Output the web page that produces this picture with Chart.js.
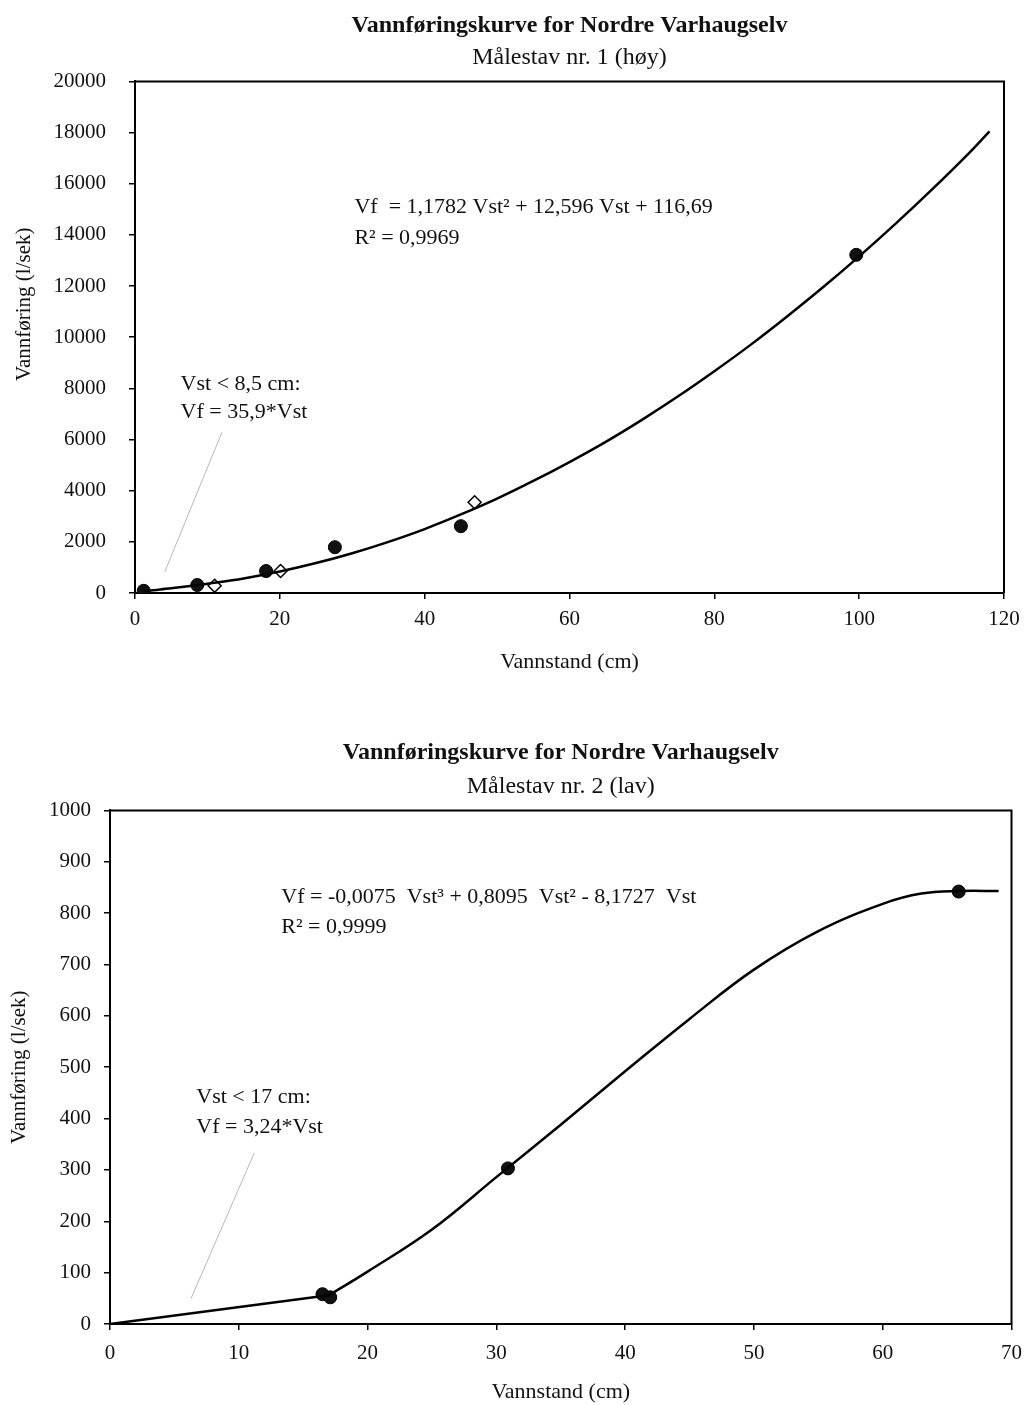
<!DOCTYPE html>
<html><head><meta charset="utf-8">
<script src="https://cdn.jsdelivr.net/npm/chart.js@4/dist/chart.umd.min.js"></script>
<style>
html,body{margin:0;padding:0;background:#fff;}
#w1{position:absolute;left:0;top:0;width:1033px;height:700px;}
#w2{position:absolute;left:0;top:700px;width:1033px;height:705px;}
</style></head><body>
<div id="w1"><canvas id="c1"></canvas></div>
<div id="w2"><canvas id="c2"></canvas></div>
<script>
// ---------- shared text ----------
const mainTitle = 'Vannføringskurve for Nordre Varhaugselv';
const xTitle = 'Vannstand (cm)';
const yTitle = 'Vannføring (l/sek)';

// ---------- chart 1: Målestav nr. 1 (høy) ----------
const subtitle1 = 'Målestav nr. 1 (høy)';
const xTicks1 = [0, 20, 40, 60, 80, 100, 120];
const yTicks1 = [0, 2000, 4000, 6000, 8000, 10000, 12000, 14000, 16000, 18000, 20000];
const dotsX1 = [1.2, 8.6, 18.1, 27.6, 45.0, 99.6];
const dotsY1 = [85, 312, 858, 1790, 2612, 13220];
const diamondsX1 = [11.0, 20.1, 46.9];
const diamondsY1 = [280, 858, 3548];
const lowX1 = [1.2, 3, 5, 8.5];
const lowY1 = [80, 120, 190, 305];
const curveX1 = [8.5, 10, 15, 20, 25, 30, 35, 40, 45, 50, 55, 60, 65, 70, 75, 80, 85, 90, 95, 100, 105, 110, 115, 118];
const curveY1 = [305, 360, 570, 840, 1170, 1555, 2000, 2500, 3070, 3690, 4380, 5120, 5910, 6770, 7690, 8670, 9700, 10800, 11950, 13160, 14430, 15760, 17150, 18050];
const pointerX1 = [4.1, 12.0];
const pointerY1 = [820, 6280];
const notes1 = [
  {x: 6.3, y: 8150, text: 'Vst < 8,5 cm:'},
  {x: 6.3, y: 7060, text: 'Vf = 35,9*Vst'},
  {x: 30.3, y: 15090, text: 'Vf  = 1,1782 Vst² + 12,596 Vst + 116,69'},
  {x: 30.3, y: 13880, text: 'R² = 0,9969'}
];

// ---------- chart 2: Målestav nr. 2 (lav) ----------
const subtitle2 = 'Målestav nr. 2 (lav)';
const xTicks2 = [0, 10, 20, 30, 40, 50, 60, 70];
const yTicks2 = [0, 100, 200, 300, 400, 500, 600, 700, 800, 900, 1000];
const dotsX2 = [16.5, 17.1, 30.9, 65.9];
const dotsY2 = [58, 52, 303, 842];
const lowX2 = [0, 17];
const lowY2 = [0, 56];
const curveX2 = [17, 20, 25, 30, 35, 40, 45, 50, 55, 60, 63, 66, 69];
const curveY2 = [56, 102, 184, 286, 388, 492, 594, 690, 765, 818, 838, 843, 843];
const pointerX2 = [6.3, 11.2];
const pointerY2 = [50, 333];
const notes2 = [
  {x: 6.7, y: 442, text: 'Vst < 17 cm:'},
  {x: 6.7, y: 383, text: 'Vf = 3,24*Vst'},
  {x: 13.3, y: 831, text: 'Vf = -0,0075  Vst³ + 0,8095  Vst² - 8,1727  Vst'},
  {x: 13.3, y: 772, text: 'R² = 0,9999'}
];

// ---------- helpers ----------
const FONT = '"Liberation Serif", "Times New Roman", serif';
const INK = '#111';
const pts = (xs, ys) => xs.map((x, i) => ({x: x, y: ys[i]}));

const frameAndNotes = {
  id: 'frameAndNotes',
  afterDatasetsDraw(chart, args, opts) {
    const {ctx, chartArea: a, scales} = chart;
    ctx.save();
    ctx.strokeStyle = '#000';
    ctx.lineWidth = 2;
    ctx.beginPath();
    ctx.moveTo(a.left, a.top);
    ctx.lineTo(a.right, a.top);
    ctx.lineTo(a.right, a.bottom);
    ctx.stroke();
    ctx.fillStyle = INK;
    ctx.font = opts.size + 'px ' + FONT;
    ctx.textAlign = 'left';
    ctx.textBaseline = 'middle';
    (opts.notes || []).forEach(n => {
      ctx.fillText(n.text, scales.x.getPixelForValue(n.x), scales.y.getPixelForValue(n.y));
    });
    ctx.restore();
  }
};

function makeChart(id, cfg) {
  return new Chart(document.getElementById(id), {
    type: 'scatter',
    data: {
      datasets: [
        {label: 'pointer', data: pts(cfg.pointerX, cfg.pointerY), showLine: true, borderColor: '#b8b8b8', borderWidth: 1, pointRadius: 0},
        {label: 'lineær del', data: pts(cfg.lowX, cfg.lowY), showLine: true, borderColor: '#000', borderWidth: 2.5, pointRadius: 0, tension: cfg.lowTension},
        {label: 'kurve', data: pts(cfg.curveX, cfg.curveY), showLine: true, borderColor: '#000', borderWidth: 2.5, pointRadius: 0, tension: 0.4},
        {label: 'målinger', data: pts(cfg.dotsX, cfg.dotsY), pointStyle: 'circle', pointRadius: 6.5, backgroundColor: '#111', borderColor: '#000', borderWidth: 1},
        {label: 'målinger 2', data: pts(cfg.diaX, cfg.diaY), pointStyle: 'rectRot', pointRadius: 6.5, backgroundColor: '#fff', borderColor: '#000', borderWidth: 1.5}
      ]
    },
    options: {
      responsive: true,
      maintainAspectRatio: false,
      animation: false,
      layout: {padding: cfg.padding},
      plugins: {
        legend: {display: false},
        tooltip: {enabled: false},
        title: {display: true, text: mainTitle, fullSize: false, color: INK, font: {family: FONT, size: 24, weight: 'bold'}, padding: cfg.titlePad},
        subtitle: {display: true, text: cfg.subtitle, fullSize: false, color: INK, font: {family: FONT, size: 24}, padding: cfg.subPad},
        frameAndNotes: {notes: cfg.notes, size: 22}
      },
      scales: {
        x: {
          type: 'linear', min: cfg.xTicks[0], max: cfg.xTicks[cfg.xTicks.length - 1],
          afterBuildTicks: s => { s.ticks = cfg.xTicks.map(v => ({value: v})); },
          afterFit: s => { s.height = cfg.xHeight; },
          border: {color: '#000', width: 2},
          grid: {drawOnChartArea: false, drawTicks: true, tickLength: 6, color: '#000', lineWidth: 1.5},
          ticks: {color: INK, font: {family: FONT, size: 21}, padding: cfg.xPad, maxRotation: 0, callback: v => String(v)},
          title: {display: true, text: xTitle, color: INK, font: {family: FONT, size: 22}, padding: 0}
        },
        y: {
          type: 'linear', min: cfg.yTicks[0], max: cfg.yTicks[cfg.yTicks.length - 1],
          afterBuildTicks: s => { s.ticks = cfg.yTicks.map(v => ({value: v})); },
          afterFit: s => { s.width = cfg.yWidth; },
          afterUpdate: s => {
            if (!s._titleShifted && cfg.yTitleShift) {
              const orig = s.drawTitle.bind(s);
              s.drawTitle = function () {
                this.ctx.save();
                this.ctx.translate(0, cfg.yTitleShift);
                orig();
                this.ctx.restore();
              };
              s._titleShifted = true;
            }
          },
          border: {color: '#000', width: 2},
          grid: {drawOnChartArea: false, drawTicks: true, tickLength: 6, color: '#000', lineWidth: 1.5},
          ticks: {color: INK, font: {family: FONT, size: 21}, padding: cfg.yPad, callback: v => String(v)},
          title: {display: true, text: yTitle, color: INK, font: {family: FONT, size: 21}, padding: 0}
        }
      }
    },
    plugins: [frameAndNotes]
  });
}

makeChart('c1', {
  subtitle: subtitle1, xTicks: xTicks1, yTicks: yTicks1,
  dotsX: dotsX1, dotsY: dotsY1, diaX: diamondsX1, diaY: diamondsY1,
  lowX: lowX1, lowY: lowY1, lowTension: 0.3,
  curveX: curveX1, curveY: curveY1, pointerX: pointerX1, pointerY: pointerY1, notes: notes1,
  padding: {left: 12, right: 29, top: 0, bottom: 25},
  titlePad: {top: 11.6, bottom: 0}, subPad: {top: 3.2, bottom: 9},
  yWidth: 123, yPad: 23, xPad: 8, xHeight: 82, yTitleShift: -33
});

makeChart('c2', {
  subtitle: subtitle2, xTicks: xTicks2, yTicks: yTicks2,
  dotsX: dotsX2, dotsY: dotsY2, diaX: [], diaY: [],
  lowX: lowX2, lowY: lowY2, lowTension: 0,
  curveX: curveX2, curveY: curveY2, pointerX: pointerX2, pointerY: pointerY2, notes: notes2,
  padding: {left: 7, right: 14, top: 0, bottom: 0},
  titlePad: {top: 38.6, bottom: 0}, subPad: {top: 5.2, bottom: 9},
  yWidth: 103, yPad: 13, xPad: 11, xHeight: 81, yTitleShift: 0
});
</script>
</body></html>
